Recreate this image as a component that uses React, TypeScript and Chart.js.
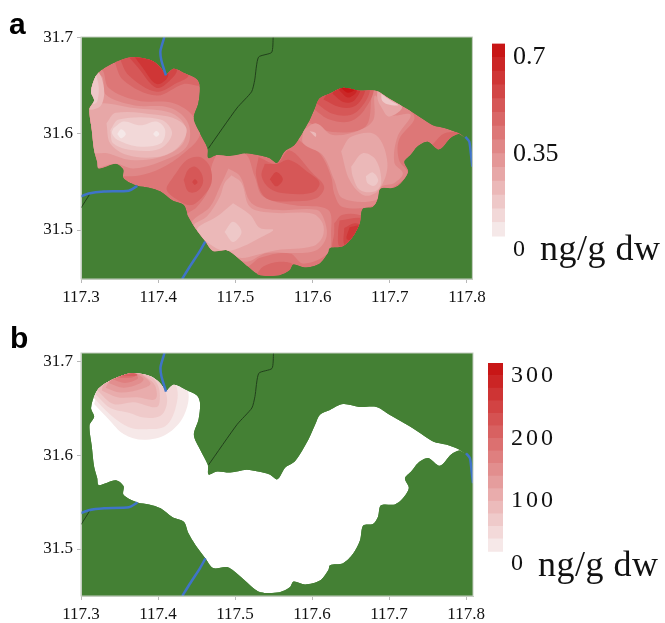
import React, { useEffect, useRef } from "react";
import { Chart, registerables } from "chart.js";

type P = [number, number];

const lonTicksA = [117.3, 117.4, 117.5, 117.6, 117.7, 117.8];
const latTicks = [31.5, 31.6, 31.7];
const GREEN = "#448034";
const RIVER = "#3f74c8";

const lake: P[] = [[117.410,31.661],[117.420,31.668],[117.435,31.663],[117.450,31.657],[117.454,31.649],[117.452,31.632],[117.446,31.616],[117.454,31.601],[117.464,31.585],[117.465,31.575],[117.476,31.578],[117.493,31.577],[117.514,31.580],[117.529,31.578],[117.544,31.575],[117.554,31.570],[117.564,31.582],[117.577,31.589],[117.594,31.611],[117.603,31.627],[117.609,31.637],[117.622,31.642],[117.639,31.648],[117.660,31.645],[117.682,31.645],[117.699,31.637],[117.725,31.625],[117.744,31.615],[117.756,31.609],[117.772,31.606],[117.789,31.601],[117.796,31.597],[117.789,31.600],[117.779,31.596],[117.764,31.584],[117.749,31.592],[117.736,31.587],[117.727,31.578],[117.719,31.571],[117.724,31.561],[117.716,31.550],[117.706,31.544],[117.688,31.543],[117.684,31.531],[117.678,31.524],[117.665,31.522],[117.661,31.507],[117.652,31.493],[117.639,31.483],[117.622,31.481],[117.620,31.476],[117.609,31.465],[117.590,31.461],[117.575,31.464],[117.570,31.458],[117.557,31.453],[117.532,31.453],[117.519,31.460],[117.502,31.472],[117.489,31.479],[117.471,31.478],[117.461,31.488],[117.448,31.502],[117.439,31.514],[117.433,31.526],[117.418,31.531],[117.403,31.540],[117.388,31.544],[117.373,31.546],[117.355,31.554],[117.355,31.563],[117.345,31.569],[117.323,31.564],[117.321,31.571],[117.317,31.583],[117.314,31.604],[117.311,31.626],[117.317,31.635],[117.313,31.644],[117.319,31.660],[117.327,31.667],[117.345,31.675],[117.366,31.680],[117.390,31.677],[117.402,31.670]];

const riverNorth: P[] = [[117.408,31.701],[117.403,31.687],[117.404,31.677],[117.410,31.661]];
const riverWest: P[] = [[117.300,31.535],[117.310,31.538],[117.330,31.540],[117.362,31.541],[117.373,31.546]];
const riverSouth: P[] = [[117.431,31.449],[117.441,31.462],[117.454,31.478],[117.461,31.488]];
const riverEast: P[] = [[117.798,31.597],[117.803,31.592],[117.805,31.580],[117.807,31.566]];
const roadNorth: P[] = [[117.549,31.701],[117.547,31.685],[117.530,31.680],[117.525,31.656],[117.521,31.644],[117.502,31.627],[117.465,31.585]];
const roadWest: P[] = [[117.300,31.523],[117.311,31.537]];

// panel a contour regions, value level given in levelsA
const west6: P[] = [[117.308,31.663],[117.327,31.667],[117.336,31.648],[117.373,31.635],[117.420,31.632],[117.446,31.618],[117.454,31.599],[117.433,31.580],[117.403,31.564],[117.377,31.557],[117.355,31.556],[117.308,31.556]];
const west5: P[] = [[117.308,31.660],[117.327,31.660],[117.332,31.641],[117.368,31.630],[117.416,31.627],[117.439,31.611],[117.437,31.587],[117.403,31.571],[117.368,31.564],[117.345,31.569],[117.308,31.566]];
const west4: P[] = [[117.308,31.628],[117.329,31.632],[117.368,31.627],[117.416,31.622],[117.435,31.608],[117.431,31.589],[117.403,31.576],[117.364,31.573],[117.334,31.580],[117.321,31.580],[117.308,31.580]];
const west3: P[] = [[117.333,31.611],[117.345,31.622],[117.398,31.620],[117.424,31.615],[117.437,31.604],[117.424,31.585],[117.398,31.576],[117.360,31.578],[117.338,31.590]];
const west2: P[] = [[117.338,31.604],[117.349,31.615],[117.403,31.615],[117.418,31.601],[117.403,31.585],[117.368,31.583],[117.342,31.590]];
const west1: P[] = [[117.342,31.606],[117.355,31.613],[117.377,31.609],[117.398,31.613],[117.409,31.604],[117.403,31.590],[117.373,31.587],[117.347,31.594],[117.340,31.601]];
const westDotA: P[] = [[117.347,31.600],[117.352,31.605],[117.358,31.600],[117.352,31.5955]];
const westDotB: P[] = [[117.3935,31.600],[117.3975,31.603],[117.4015,31.600],[117.3975,31.597]];
const westEdge3: P[] = [[117.321,31.667],[117.327,31.658],[117.330,31.641],[117.324,31.628],[117.308,31.627],[117.308,31.667]];
const westEdge2: P[] = [[117.320,31.661],[117.323,31.649],[117.322,31.637],[117.319,31.632],[117.310,31.632],[117.310,31.661]];
const westRed8: P[] = [[117.342,31.679],[117.355,31.656],[117.398,31.640],[117.433,31.652],[117.456,31.651],[117.454,31.667],[117.420,31.675],[117.390,31.686],[117.360,31.686]];
const westRed9: P[] = [[117.350,31.679],[117.362,31.661],[117.398,31.644],[117.424,31.653],[117.439,31.661],[117.420,31.672],[117.403,31.681],[117.381,31.686]];
const westRed10: P[] = [[117.360,31.682],[117.373,31.670],[117.398,31.648],[117.418,31.658],[117.424,31.668],[117.403,31.681],[117.381,31.686]];
const westRed11: P[] = [[117.366,31.684],[117.379,31.670],[117.398,31.652],[117.413,31.661],[117.403,31.681],[117.381,31.686]];
const mid8: P[] = [[117.420,31.556],[117.437,31.573],[117.454,31.576],[117.467,31.566],[117.469,31.549],[117.458,31.535],[117.443,31.526],[117.428,31.530],[117.411,31.542]];
const mid10: P[] = [[117.433,31.552],[117.439,31.563],[117.448,31.566],[117.456,31.559],[117.458,31.549],[117.450,31.540],[117.439,31.540]];
const mid11: P[] = [[117.444,31.550],[117.4475,31.553],[117.451,31.550],[117.4475,31.547]];
const node8: P[] = [[117.530,31.576],[117.553,31.569],[117.570,31.583],[117.600,31.559],[117.615,31.545],[117.605,31.533],[117.575,31.530],[117.540,31.533],[117.527,31.556]];
const node9: P[] = [[117.538,31.569],[117.554,31.569],[117.570,31.573],[117.596,31.559],[117.609,31.549],[117.600,31.539],[117.566,31.538],[117.545,31.543],[117.534,31.556]];
const node11: P[] = [[117.5445,31.553],[117.553,31.5605],[117.5615,31.553],[117.553,31.5455]];
const south6: P[] = [[117.476,31.580],[117.512,31.580],[117.525,31.556],[117.536,31.535],[117.575,31.526],[117.620,31.521],[117.624,31.497],[117.620,31.476],[117.588,31.465],[117.570,31.476],[117.532,31.471],[117.514,31.462],[117.480,31.477],[117.446,31.500],[117.435,31.514],[117.450,31.524],[117.465,31.542],[117.469,31.566]];
const south5: P[] = [[117.491,31.564],[117.506,31.556],[117.521,31.528],[117.553,31.521],[117.605,31.521],[117.615,31.511],[117.618,31.493],[117.605,31.479],[117.575,31.476],[117.540,31.476],[117.514,31.467],[117.480,31.479],[117.443,31.504],[117.446,31.511],[117.467,31.524],[117.480,31.545]];
const south4: P[] = [[117.495,31.557],[117.508,31.549],[117.519,31.524],[117.549,31.518],[117.600,31.517],[117.613,31.507],[117.613,31.493],[117.600,31.483],[117.553,31.479],[117.527,31.474],[117.506,31.471],[117.489,31.479],[117.471,31.478],[117.454,31.497],[117.446,31.505],[117.463,31.514],[117.480,31.535],[117.486,31.549]];
const south3: P[] = [[117.497,31.528],[117.519,31.516],[117.532,31.502],[117.549,31.500],[117.532,31.492],[117.510,31.483],[117.489,31.478],[117.471,31.483],[117.450,31.500],[117.476,31.514]];
const south2: P[] = [[117.486,31.498],[117.497,31.5085],[117.508,31.498],[117.497,31.4875]];
const southRim8: P[] = [[117.527,31.453],[117.536,31.462],[117.557,31.467],[117.575,31.464],[117.572,31.452],[117.532,31.450]];
const east6: P[] = [[117.592,31.613],[117.626,31.602],[117.669,31.608],[117.680,31.646],[117.704,31.635],[117.732,31.618],[117.712,31.594],[117.712,31.573],[117.723,31.559],[117.701,31.543],[117.686,31.542],[117.680,31.526],[117.639,31.524],[117.628,31.538],[117.624,31.556],[117.609,31.580],[117.585,31.592],[117.577,31.601]];
const east5: P[] = [[117.588,31.604],[117.605,31.611],[117.626,31.599],[117.661,31.604],[117.679,31.615],[117.681,31.640],[117.699,31.620],[117.727,31.620],[117.710,31.597],[117.706,31.570],[117.717,31.559],[117.706,31.549],[117.689,31.545],[117.682,31.531],[117.639,31.533],[117.628,31.552],[117.613,31.578],[117.588,31.590]];
const east4: P[] = [[117.637,31.582],[117.650,31.597],[117.682,31.599],[117.697,31.569],[117.686,31.542],[117.667,31.536],[117.648,31.552]];
const east3: P[] = [[117.650,31.566],[117.665,31.580],[117.682,31.573],[117.689,31.549],[117.680,31.540],[117.661,31.542],[117.652,31.556]];
const east2: P[] = [[117.669,31.556],[117.678,31.560],[117.685,31.552],[117.680,31.546],[117.671,31.549]];
const eastTop4: P[] = [[117.684,31.646],[117.695,31.641],[117.716,31.628],[117.699,31.618],[117.689,31.628],[117.684,31.637]];
const eastTop2: P[] = [[117.689,31.642],[117.701,31.635],[117.711,31.630],[117.697,31.631],[117.690,31.635]];
const eastSpot3: P[] = [[117.596,31.603],[117.604,31.601],[117.604,31.597]];
const eastRed8: P[] = [[117.603,31.625],[117.622,31.615],[117.648,31.613],[117.667,31.625],[117.678,31.648],[117.639,31.653],[117.609,31.644]];
const eastRed9: P[] = [[117.605,31.632],[117.626,31.621],[117.650,31.620],[117.667,31.632],[117.673,31.648],[117.639,31.653],[117.613,31.644]];
const eastRed10: P[] = [[117.614,31.636],[117.635,31.628],[117.652,31.628],[117.664,31.637],[117.667,31.649],[117.630,31.653]];
const eastRed11: P[] = [[117.626,31.642],[117.641,31.633],[117.654,31.635],[117.661,31.648],[117.630,31.653]];
const eastRed12: P[] = [[117.635,31.645],[117.646,31.638],[117.657,31.644],[117.654,31.651],[117.635,31.651]];
const eastRed13: P[] = [[117.637,31.648],[117.646,31.643],[117.656,31.647],[117.648,31.651]];
const tip8: P[] = [[117.753,31.587],[117.772,31.601],[117.798,31.599],[117.766,31.582]];
const se8: P[] = [[117.628,31.507],[117.639,31.516],[117.665,31.514],[117.663,31.502],[117.650,31.484],[117.637,31.479],[117.626,31.481],[117.628,31.497]];
const se9: P[] = [[117.635,31.510],[117.665,31.512],[117.661,31.501],[117.648,31.486],[117.635,31.483],[117.633,31.497]];
const se10: P[] = [[117.641,31.502],[117.654,31.507],[117.663,31.504],[117.650,31.487],[117.641,31.485]];
const se11: P[] = [[117.648,31.503],[117.661,31.504],[117.651,31.490],[117.644,31.491]];

const regionsA: P[][] = [west6, west5, west4, westEdge3, west3, westEdge2, west2, west1, westDotA, westDotB, westRed8, westRed9, westRed10, westRed11, south6, south5, south4, south3, south2, southRim8, mid8, mid10, mid11, east6, east5, east4, east3, east2, eastTop4, eastTop2, eastSpot3, node8, node9, node11, eastRed8, eastRed9, eastRed10, eastRed11, eastRed12, eastRed13, tip8, se8, se9, se10, se11];
const levelsA = [6, 5, 4, 3, 3, 2, 2, 1, 0, 0, 8, 9, 10, 11, 6, 5, 4, 3, 2, 8, 8, 9, 10, 6, 5, 4, 3, 2, 4, 2, 3, 8, 9, 10, 8, 9, 10, 11, 12, 13, 8, 8, 9, 10, 11];

// panel b contour regions
const ringB0: P[] = [[117.317,31.648],[117.336,31.632],[117.355,31.617],[117.381,31.611],[117.411,31.617],[117.433,31.636],[117.438,31.662],[117.416,31.670],[117.368,31.684],[117.325,31.667]];
const ringB1: P[] = [[117.316,31.655],[117.338,31.637],[117.362,31.624],[117.385,31.622],[117.409,31.625],[117.422,31.643],[117.424,31.665],[117.411,31.674],[117.368,31.684],[117.325,31.667]];
const ringB2: P[] = [[117.319,31.658],[117.338,31.644],[117.362,31.639],[117.381,31.634],[117.403,31.636],[117.411,31.648],[117.409,31.662],[117.398,31.677],[117.368,31.684],[117.325,31.669]];
const ringB3: P[] = [[117.321,31.662],[117.342,31.648],[117.368,31.650],[117.398,31.645],[117.402,31.657],[117.398,31.670],[117.385,31.679],[117.368,31.684],[117.325,31.669]];
const ringB4: P[] = [[117.327,31.662],[117.347,31.655],[117.373,31.655],[117.396,31.653],[117.396,31.667],[117.383,31.677],[117.368,31.684],[117.330,31.670]];
const ringB5: P[] = [[117.332,31.665],[117.351,31.660],[117.379,31.664],[117.390,31.669],[117.381,31.677],[117.368,31.683],[117.339,31.674]];
const ringB6: P[] = [[117.336,31.670],[117.355,31.665],[117.375,31.669],[117.381,31.674],[117.373,31.679],[117.364,31.683],[117.342,31.676]];
const ringB7: P[] = [[117.340,31.674],[117.357,31.670],[117.373,31.674],[117.373,31.677],[117.362,31.682],[117.347,31.677]];
const ringB8: P[] = [[117.342,31.676],[117.357,31.675],[117.370,31.677],[117.366,31.681],[117.347,31.677]];
const ringB9: P[] = [[117.351,31.677],[117.362,31.677],[117.373,31.678],[117.366,31.681],[117.355,31.679]];
const regionsB: P[][] = [ringB0, ringB1, ringB2, ringB3, ringB4, ringB5, ringB6, ringB7, ringB8, ringB9];

const paletteA = ["#f5e8e8", "#f2d8d8", "#eec8c8", "#ebb8b8", "#e7a7a7", "#e49797", "#e08787", "#dd7777", "#d96767", "#d65757", "#d24646", "#cf3636", "#cb2626", "#c81616"];
const paletteB = ["#f6e8e8", "#f3d9d9", "#efcaca", "#ecbbbb", "#e9acac", "#e59d9d", "#e28e8e", "#df7f7f", "#dc7070", "#d86161", "#d55252", "#d24343", "#ce3434", "#cb2525", "#c81616"];
const edgesA = [0.05, 0.1, 0.15, 0.2, 0.25, 0.3, 0.35, 0.4, 0.45, 0.5, 0.55, 0.6, 0.65, 0.7, 0.75];
const edgesB = [20, 40, 60, 80, 100, 120, 140, 160, 180, 200, 220, 240, 260, 280, 300, 320];
const ticksBarA = [0, 0.35, 0.7];
const ticksBarB = [0, 100, 200, 300];

const serif = "'Liberation Serif'";

const lakeClip = {
  id: "lakeClip",
  beforeDatasetDraw(chart: any, args: any) {
    if (!chart.scales.xm || !chart.data.datasets[args.index].inLake) return;
    const index = chart.data.datasets.findIndex((d: any) => d.isLake);
    const line = chart.getDatasetMeta(index).dataset;
    const c = chart.ctx;
    line.updateControlPoints(chart.chartArea, "x");
    c.save();
    c.beginPath();
    line.path(c);
    c.closePath();
    c.clip();
  },
  afterDatasetDraw(chart: any, args: any) {
    if (chart.scales.xm && chart.data.datasets[args.index].inLake) chart.ctx.restore();
  },
};
Chart.register(lakeClip, ...registerables);

const toXY = (a: P[]) => a.map(([x, y]) => ({ x, y }));
const polygon = (a: P[], color: string, tension = 0.35, isLake = false) => ({
  data: toXY([...a, a[0]]),
  showLine: true,
  fill: "shape",
  backgroundColor: color,
  borderWidth: 0,
  borderColor: "transparent",
  pointRadius: 0,
  tension,
  inLake: true,
  isLake,
  xAxisID: "xm",
  yAxisID: "ym",
});
const path = (a: P[], color: string, width: number) => ({
  data: toXY(a),
  showLine: true,
  fill: false,
  borderColor: color,
  borderWidth: width,
  pointRadius: 0,
  tension: 0.2,
  xAxisID: "xm",
  yAxisID: "ym",
});

const frame = {
  id: "frame",
  beforeDraw(chart: any) {
    const { left, top, width, height } = chart.chartArea;
    chart.ctx.fillStyle = GREEN;
    chart.ctx.fillRect(left, top, width, height);
  },
  afterDraw(chart: any) {
    const { left, top, width, height } = chart.chartArea;
    chart.ctx.strokeStyle = "#c4cdc0";
    chart.ctx.lineWidth = 1;
    chart.ctx.strokeRect(left, top, width, height);
  },
};

function mapConfig(base: string, regions: P[][], colors: string[], xr: P, yr: P, pad: any): any {
  const ordered = [
    polygon(lake, base, 0.3, true),
    ...regions.map((r, i) => polygon(r, colors[i])),
    path(roadNorth, "#22401c", 1),
    path(roadWest, "#22401c", 1),
    path(riverNorth, RIVER, 2.5),
    path(riverWest, RIVER, 2.5),
    path(riverSouth, RIVER, 2.5),
    path(riverEast, RIVER, 2.5),
  ];
  return {
    type: "scatter",
    data: { datasets: ordered.reverse() },
    plugins: [frame],
    options: {
      responsive: false,
      animation: false,
      layout: { padding: pad.padding },
      plugins: { legend: { display: false }, tooltip: { enabled: false } },
      scales: {
        x: {
          type: "linear", min: xr[0], max: xr[1], position: "bottom",
          afterBuildTicks: (s: any) => { s.ticks = lonTicksA.map((value) => ({ value })); },
          afterFit: (s: any) => { s.height = pad.xh; },
          grid: { drawOnChartArea: false, color: "#b8b8b8", tickLength: 4 },
          border: { color: "#c4cdc0" },
          ticks: { autoSkip: false, maxRotation: 0, padding: 4, color: "#111", font: { family: serif, size: 17 }, callback: (v: number) => v.toFixed(1) },
        },
        y: {
          type: "linear", min: yr[0], max: yr[1], position: "left",
          afterBuildTicks: (s: any) => { s.ticks = latTicks.map((value) => ({ value })); },
          afterFit: (s: any) => { s.width = 81; },
          grid: { drawOnChartArea: false, color: "#b8b8b8", tickLength: 4 },
          border: { color: "#c4cdc0" },
          ticks: { autoSkip: false, padding: 4, color: "#111", font: { family: serif, size: 17 }, callback: (v: number) => v.toFixed(1) },
        },
        xm: { type: "linear", axis: "x", display: false, min: 117.3, max: 117.807 },
        ym: { type: "linear", axis: "y", display: false, min: 31.449, max: 31.701 },
      },
    },
  };
}

function barConfig(edges: number[], colors: string[], ticks: number[], top: number, span: number, height: number, spacing: string, fmt: (v: number) => string): any {
  return {
    type: "bar",
    data: {
      labels: [""],
      datasets: colors.map((c, i) => ({ data: [[edges[i], edges[i + 1]]], backgroundColor: c, grouped: false, barPercentage: 1, categoryPercentage: 1, borderWidth: 0 })),
    },
    plugins: [{ id: "spacing", beforeDraw(chart: any) { chart.ctx.letterSpacing = spacing; } }],
    options: {
      responsive: false,
      animation: false,
      layout: { padding: { top, bottom: height - top - span, left: 0, right: 0 } },
      plugins: { legend: { display: false }, tooltip: { enabled: false } },
      scales: {
        x: { display: false },
        y: {
          position: "right", min: 0, max: edges[edges.length - 1],
          afterBuildTicks: (s: any) => { s.ticks = ticks.map((value) => ({ value })); },
          afterFit: (s: any) => { s.width = 70; },
          grid: { display: false, drawTicks: false },
          border: { display: false },
          ticks: {
            autoSkip: false, padding: 8, color: "#111",
            font: (ctx: any) => ({ family: serif, size: ctx.tick && ctx.tick.value === 0 ? 24 : spacing === "0px" ? 26 : 24 }),
            callback: (v: number) => fmt(v),
          },
        },
      },
    },
  };
}

const abs = (l: number, t: number): React.CSSProperties => ({ position: "absolute", left: l, top: t, display: "block" });
const unit: React.CSSProperties = { position: "absolute", fontFamily: serif, fontSize: 36, lineHeight: "40px", letterSpacing: "0.5px", color: "#111", whiteSpace: "nowrap" };
const letter: React.CSSProperties = { position: "absolute", fontFamily: "'Liberation Sans'", fontWeight: 700, fontSize: 30, lineHeight: "34px", color: "#000" };

export default function App() {
  const a = useRef<HTMLCanvasElement>(null);
  const b = useRef<HTMLCanvasElement>(null);
  const ca = useRef<HTMLCanvasElement>(null);
  const cb = useRef<HTMLCanvasElement>(null);
  useEffect(() => {
    const charts = [
      new Chart(a.current!, mapConfig(paletteA[7], regionsA, levelsA.map((l) => paletteA[l]), [117.3, 117.807], [31.449, 31.701], { padding: { top: 37, right: 17, left: 0, bottom: 0 }, xh: 31 })),
      new Chart(b.current!, mapConfig("#ffffff", regionsB, paletteB, [117.3, 117.809], [31.45, 31.7086], { padding: { top: 33, right: 17, left: 0, bottom: 0 }, xh: 27 })),
      new Chart(ca.current!, barConfig(edgesA, paletteA, ticksBarA, 21, 209, 260, "0px", (v) => (v === 0 ? "0" : String(v)))),
      new Chart(cb.current!, barConfig(edgesB, paletteB, ticksBarB, 23, 201, 250, "3px", (v) => String(v))),
    ];
    return () => charts.forEach((c) => c.destroy());
  }, []);
  return (
    <div style={{ position: "fixed", left: 0, top: 0, width: 665, height: 623, background: "#fff", overflow: "hidden", filter: "blur(0.5px)" }}>
      <canvas ref={a} width={490} height={310} style={abs(0, 0)} />
      <canvas ref={b} width={490} height={303} style={abs(0, 320)} />
      <canvas ref={ca} width={83} height={260} style={abs(492, 20)} />
      <canvas ref={cb} width={85} height={250} style={abs(488, 340)} />
      <div style={{ ...letter, left: 9, top: 7 }}>a</div>
      <div style={{ ...letter, left: 10, top: 321 }}>b</div>
      <div style={{ ...unit, left: 540, top: 228 }}>ng/g dw</div>
      <div style={{ ...unit, left: 538, top: 544 }}>ng/g dw</div>
    </div>
  );
}
